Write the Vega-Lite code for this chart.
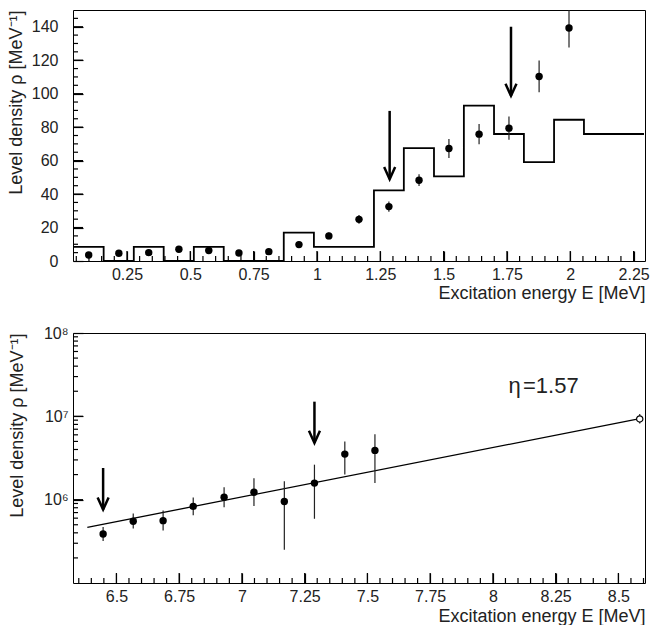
{
  "$schema": "https://vega.github.io/schema/vega-lite/v6.json",
  "padding": {"left": 6, "top": 9, "right": 2, "bottom": 3},
  "background": "white",
  "spacing": 21,
  "config": {
    "view": {"stroke": "black", "strokeWidth": 1},
    "font": "Liberation Sans",
    "axis": {"ticks": true, "labelFont": "Liberation Sans", "labelFontSize": 16, "labelColor": "#222", "titleFont": "Liberation Sans", "titleFontSize": 18, "titleFontWeight": "normal", "titleColor": "#222", "tickColor": "black", "tickWidth": 1.2, "tickOpacity": 1, "domain": false, "grid": false, "zindex": 1}
  },
  "datasets": {
    "hist": [
      {"e": 0.040, "h": 8.44}, {"e": 0.158, "h": 0}, {"e": 0.277, "h": 8.44}, {"e": 0.395, "h": 0},
      {"e": 0.514, "h": 8.44}, {"e": 0.632, "h": 0}, {"e": 0.751, "h": 0}, {"e": 0.869, "h": 16.9},
      {"e": 0.988, "h": 8.44}, {"e": 1.106, "h": 8.44}, {"e": 1.225, "h": 42.2}, {"e": 1.343, "h": 67.5},
      {"e": 1.462, "h": 50.6}, {"e": 1.580, "h": 92.8}, {"e": 1.699, "h": 75.9}, {"e": 1.817, "h": 59.1},
      {"e": 1.936, "h": 84.4}, {"e": 2.054, "h": 75.9}, {"e": 2.173, "h": 75.9}, {"e": 2.291, "h": 75.9}
    ],
    "top": [
      {"x": 0.099, "y": 3.6, "lo": 2.6, "hi": 4.6},
      {"x": 0.218, "y": 4.6, "lo": 3.6, "hi": 5.6},
      {"x": 0.336, "y": 5.0, "lo": 3.8, "hi": 6.2},
      {"x": 0.455, "y": 7.0, "lo": 5.7, "hi": 8.3},
      {"x": 0.573, "y": 6.3, "lo": 5.0, "hi": 7.6},
      {"x": 0.692, "y": 4.8, "lo": 3.6, "hi": 6.0},
      {"x": 0.810, "y": 5.6, "lo": 4.3, "hi": 6.9},
      {"x": 0.929, "y": 9.8, "lo": 8.0, "hi": 11.6},
      {"x": 1.047, "y": 15.0, "lo": 13.0, "hi": 17.0},
      {"x": 1.166, "y": 24.9, "lo": 22.3, "hi": 27.5},
      {"x": 1.284, "y": 32.5, "lo": 29.5, "hi": 35.5},
      {"x": 1.403, "y": 48.3, "lo": 44.8, "hi": 51.8},
      {"x": 1.521, "y": 67.2, "lo": 61.5, "hi": 72.9},
      {"x": 1.640, "y": 75.8, "lo": 69.8, "hi": 81.8},
      {"x": 1.758, "y": 79.4, "lo": 72.4, "hi": 86.4},
      {"x": 1.877, "y": 110.3, "lo": 100.8, "hi": 119.8},
      {"x": 1.995, "y": 139.2, "lo": 127.6, "hi": 150.8}
    ],
    "topArrows": [
      {"x": 1.287, "top": 89.7, "tip": 48.9},
      {"x": 1.766, "top": 140, "tip": 98.7}
    ],
    "bottom": [
      {"x": 6.447, "y": 387000, "lo": 320000, "hi": 470000},
      {"x": 6.567, "y": 550000, "lo": 450000, "hi": 680000},
      {"x": 6.686, "y": 560000, "lo": 427000, "hi": 740000},
      {"x": 6.806, "y": 830000, "lo": 650000, "hi": 1060000},
      {"x": 6.929, "y": 1070000, "lo": 810000, "hi": 1410000},
      {"x": 7.048, "y": 1230000, "lo": 840000, "hi": 1810000},
      {"x": 7.169, "y": 950000, "lo": 250000, "hi": 1660000},
      {"x": 7.289, "y": 1580000, "lo": 590000, "hi": 2630000},
      {"x": 7.41, "y": 3520000, "lo": 2000000, "hi": 5000000},
      {"x": 7.53, "y": 3900000, "lo": 1580000, "hi": 6100000}
    ],
    "open": [
      {"x": 8.585, "y": 9300000, "lo": 8200000, "hi": 10700000}
    ],
    "fit": [
      {"x": 6.384, "y": 465000},
      {"x": 8.57, "y": 9200000}
    ],
    "bottomArrows": [
      {"x": 6.447, "top": 2400000, "tip": 760000},
      {"x": 7.289, "top": 15000000, "tip": 4800000}
    ],
    "label": [
      {"x": 8.062, "y": 23000000, "t": "η"},
      {"x": 8.12, "y": 23000000, "t": "=1.57"}
    ],
    "txMaj": [{"v": 0.25}, {"v": 0.5}, {"v": 0.75}, {"v": 1}, {"v": 1.25}, {"v": 1.5}, {"v": 1.75}, {"v": 2}, {"v": 2.25}],
    "txMin": [{"v": 0.05}, {"v": 0.1}, {"v": 0.15}, {"v": 0.2}, {"v": 0.3}, {"v": 0.35}, {"v": 0.4}, {"v": 0.45}, {"v": 0.55}, {"v": 0.6}, {"v": 0.65}, {"v": 0.7}, {"v": 0.8}, {"v": 0.85}, {"v": 0.9}, {"v": 0.95}, {"v": 1.05}, {"v": 1.1}, {"v": 1.15}, {"v": 1.2}, {"v": 1.3}, {"v": 1.35}, {"v": 1.4}, {"v": 1.45}, {"v": 1.55}, {"v": 1.6}, {"v": 1.65}, {"v": 1.7}, {"v": 1.8}, {"v": 1.85}, {"v": 1.9}, {"v": 1.95}, {"v": 2.05}, {"v": 2.1}, {"v": 2.15}, {"v": 2.2}],
    "tyMaj": [{"v": 20}, {"v": 40}, {"v": 60}, {"v": 80}, {"v": 100}, {"v": 120}, {"v": 140}],
    "tyMin": [{"v": 5}, {"v": 10}, {"v": 15}, {"v": 25}, {"v": 30}, {"v": 35}, {"v": 45}, {"v": 50}, {"v": 55}, {"v": 65}, {"v": 70}, {"v": 75}, {"v": 85}, {"v": 90}, {"v": 95}, {"v": 105}, {"v": 110}, {"v": 115}, {"v": 125}, {"v": 130}, {"v": 135}, {"v": 145}],
    "bxMaj": [{"v": 6.5}, {"v": 6.75}, {"v": 7}, {"v": 7.25}, {"v": 7.5}, {"v": 7.75}, {"v": 8}, {"v": 8.25}, {"v": 8.5}],
    "bxMin": [{"v": 6.35}, {"v": 6.4}, {"v": 6.45}, {"v": 6.55}, {"v": 6.6}, {"v": 6.65}, {"v": 6.7}, {"v": 6.8}, {"v": 6.85}, {"v": 6.9}, {"v": 6.95}, {"v": 7.05}, {"v": 7.1}, {"v": 7.15}, {"v": 7.2}, {"v": 7.3}, {"v": 7.35}, {"v": 7.4}, {"v": 7.45}, {"v": 7.55}, {"v": 7.6}, {"v": 7.65}, {"v": 7.7}, {"v": 7.8}, {"v": 7.85}, {"v": 7.9}, {"v": 7.95}, {"v": 8.05}, {"v": 8.1}, {"v": 8.15}, {"v": 8.2}, {"v": 8.3}, {"v": 8.35}, {"v": 8.4}, {"v": 8.45}, {"v": 8.55}, {"v": 8.6}],
    "byMaj": [{"v": 1000000}, {"v": 10000000}],
    "byMin": [{"v": 200000}, {"v": 300000}, {"v": 400000}, {"v": 500000}, {"v": 600000}, {"v": 700000}, {"v": 800000}, {"v": 900000}, {"v": 2000000}, {"v": 3000000}, {"v": 4000000}, {"v": 5000000}, {"v": 6000000}, {"v": 7000000}, {"v": 8000000}, {"v": 9000000}, {"v": 20000000}, {"v": 30000000}, {"v": 40000000}, {"v": 50000000}, {"v": 60000000}, {"v": 70000000}, {"v": 80000000}, {"v": 90000000}]
  },
  "vconcat": [
    {
      "width": 572,
      "height": 251,
      "resolve": {"axis": {"x": "independent", "y": "independent"}},
      "layer": [
        {
          "data": {"name": "hist"},
          "mark": {"type": "line", "interpolate": "step-after", "color": "black", "strokeWidth": 1.8, "clip": true},
          "encoding": {
            "x": {"field": "e", "type": "quantitative", "scale": {"domain": [0.037, 2.295], "nice": false, "zero": false},
              "axis": {"orient": "bottom", "offset": -10, "ticks": true, "tickColor": "black", "values": [0.25, 0.5, 0.75, 1, 1.25, 1.5, 1.75, 2, 2.25], "labelExpr": "'' + datum.value", "tickSize": 10, "labelPadding": 5, "title": "Excitation energy E [MeV]", "titleAnchor": "end", "titlePadding": 2}},
            "y": {"field": "h", "type": "quantitative", "scale": {"domain": [0, 150], "nice": false},
              "axis": {"orient": "left", "offset": -10, "ticks": true, "tickColor": "black", "values": [0, 20, 40, 60, 80, 100, 120, 140], "tickSize": 10, "labelPadding": 15, "title": "Level density ρ [MeV⁻¹]", "titleAnchor": "end", "titlePadding": 6}}
          }
        },
        {
          "data": {"name": "txMaj"},
          "mark": {"type": "tick", "orient": "vertical", "size": 20, "thickness": 1.2, "color": "black", "opacity": 1, "clip": true},
          "encoding": {
            "x": {"field": "v", "type": "quantitative", "axis": null},
            "y": {"datum": 0, "type": "quantitative", "axis": null}
          }
        },
        {
          "data": {"name": "txMin"},
          "mark": {"type": "tick", "orient": "vertical", "size": 10, "thickness": 1.2, "color": "black", "opacity": 1, "clip": true},
          "encoding": {
            "x": {"field": "v", "type": "quantitative", "axis": null},
            "y": {"datum": 0, "type": "quantitative", "axis": null}
          }
        },
        {
          "data": {"name": "tyMaj"},
          "mark": {"type": "tick", "orient": "horizontal", "size": 20, "thickness": 1.2, "color": "black", "opacity": 1, "clip": true},
          "encoding": {
            "y": {"field": "v", "type": "quantitative", "axis": null},
            "x": {"datum": 0.037, "type": "quantitative", "axis": null}
          }
        },
        {
          "data": {"name": "tyMin"},
          "mark": {"type": "tick", "orient": "horizontal", "size": 10, "thickness": 1.2, "color": "black", "opacity": 1, "clip": true},
          "encoding": {
            "y": {"field": "v", "type": "quantitative", "axis": null},
            "x": {"datum": 0.037, "type": "quantitative", "axis": null}
          }
        },
        {
          "data": {"name": "top"},
          "mark": {"type": "rule", "color": "#222", "strokeWidth": 1.2, "clip": true},
          "encoding": {
            "x": {"field": "x", "type": "quantitative", "axis": null},
            "y": {"field": "lo", "type": "quantitative", "axis": null},
            "y2": {"field": "hi"}
          }
        },
        {
          "data": {"name": "top"},
          "mark": {"type": "point", "shape": "circle", "filled": true, "color": "black", "size": 55, "opacity": 1},
          "encoding": {
            "x": {"field": "x", "type": "quantitative", "axis": null},
            "y": {"field": "y", "type": "quantitative", "axis": null}
          }
        },
        {
          "data": {"name": "topArrows"},
          "mark": {"type": "rule", "color": "black", "strokeWidth": 2.5},
          "encoding": {
            "x": {"field": "x", "type": "quantitative", "axis": null},
            "y": {"field": "top", "type": "quantitative", "axis": null},
            "y2": {"field": "tip"}
          }
        },
        {
          "data": {"name": "topArrows"},
          "mark": {"type": "point", "shape": "M-1,-2.2L0,0L1,-2.2", "filled": false, "stroke": "black", "strokeWidth": 2.5, "size": 121, "opacity": 1},
          "encoding": {
            "x": {"field": "x", "type": "quantitative", "axis": null},
            "y": {"field": "tip", "type": "quantitative", "axis": null}
          }
        }
      ]
    },
    {
      "width": 572,
      "height": 250,
      "resolve": {"axis": {"x": "independent", "y": "independent"}},
      "layer": [
        {
          "data": {"name": "fit"},
          "mark": {"type": "line", "color": "black", "strokeWidth": 1.3},
          "encoding": {
            "x": {"field": "x", "type": "quantitative", "scale": {"domain": [6.327, 8.606], "nice": false, "zero": false},
              "axis": {"orient": "bottom", "offset": -10, "ticks": true, "tickColor": "black", "values": [6.5, 6.75, 7, 7.25, 7.5, 7.75, 8, 8.25, 8.5], "labelExpr": "'' + datum.value", "tickSize": 10, "labelPadding": 5, "title": "Excitation energy E [MeV]", "titleAnchor": "end", "titlePadding": 3}},
            "y": {"field": "y", "type": "quantitative", "scale": {"type": "log", "domain": [100000, 100000000], "nice": false},
              "axis": {"orient": "left", "offset": -10, "ticks": true, "tickColor": "black", "values": [1000000, 10000000, 100000000], "labelExpr": "datum.value >= 1e8 ? '10⁸' : datum.value >= 1e7 ? '10⁷' : '10⁶'", "tickSize": 10, "labelPadding": 5, "title": "Level density ρ [MeV⁻¹]", "titleAnchor": "end", "titlePadding": 17}}
          }
        },
        {
          "data": {"name": "bxMaj"},
          "mark": {"type": "tick", "orient": "vertical", "size": 20, "thickness": 1.2, "color": "black", "opacity": 1, "clip": true},
          "encoding": {
            "x": {"field": "v", "type": "quantitative", "axis": null},
            "y": {"datum": 100000, "type": "quantitative", "axis": null}
          }
        },
        {
          "data": {"name": "bxMin"},
          "mark": {"type": "tick", "orient": "vertical", "size": 10, "thickness": 1.2, "color": "black", "opacity": 1, "clip": true},
          "encoding": {
            "x": {"field": "v", "type": "quantitative", "axis": null},
            "y": {"datum": 100000, "type": "quantitative", "axis": null}
          }
        },
        {
          "data": {"name": "byMaj"},
          "mark": {"type": "tick", "orient": "horizontal", "size": 20, "thickness": 1.2, "color": "black", "opacity": 1, "clip": true},
          "encoding": {
            "y": {"field": "v", "type": "quantitative", "axis": null},
            "x": {"datum": 6.327, "type": "quantitative", "axis": null}
          }
        },
        {
          "data": {"name": "byMin"},
          "mark": {"type": "tick", "orient": "horizontal", "size": 10, "thickness": 1.2, "color": "black", "opacity": 1, "clip": true},
          "encoding": {
            "y": {"field": "v", "type": "quantitative", "axis": null},
            "x": {"datum": 6.327, "type": "quantitative", "axis": null}
          }
        },
        {
          "data": {"name": "bottom"},
          "mark": {"type": "rule", "color": "#222", "strokeWidth": 1.2},
          "encoding": {
            "x": {"field": "x", "type": "quantitative", "axis": null},
            "y": {"field": "lo", "type": "quantitative", "axis": null},
            "y2": {"field": "hi"}
          }
        },
        {
          "data": {"name": "bottom"},
          "mark": {"type": "point", "shape": "circle", "filled": true, "color": "black", "size": 55, "opacity": 1},
          "encoding": {
            "x": {"field": "x", "type": "quantitative", "axis": null},
            "y": {"field": "y", "type": "quantitative", "axis": null}
          }
        },
        {
          "data": {"name": "open"},
          "mark": {"type": "rule", "color": "#222", "strokeWidth": 1.2},
          "encoding": {
            "x": {"field": "x", "type": "quantitative", "axis": null},
            "y": {"field": "lo", "type": "quantitative", "axis": null},
            "y2": {"field": "hi"}
          }
        },
        {
          "data": {"name": "open"},
          "mark": {"type": "point", "shape": "circle", "filled": true, "fill": "white", "stroke": "black", "strokeWidth": 1.2, "size": 40, "opacity": 1},
          "encoding": {
            "x": {"field": "x", "type": "quantitative", "axis": null},
            "y": {"field": "y", "type": "quantitative", "axis": null}
          }
        },
        {
          "data": {"name": "bottomArrows"},
          "mark": {"type": "rule", "color": "black", "strokeWidth": 2.5},
          "encoding": {
            "x": {"field": "x", "type": "quantitative", "axis": null},
            "y": {"field": "top", "type": "quantitative", "axis": null},
            "y2": {"field": "tip"}
          }
        },
        {
          "data": {"name": "bottomArrows"},
          "mark": {"type": "point", "shape": "M-1,-2.2L0,0L1,-2.2", "filled": false, "stroke": "black", "strokeWidth": 2.5, "size": 121, "opacity": 1},
          "encoding": {
            "x": {"field": "x", "type": "quantitative", "axis": null},
            "y": {"field": "tip", "type": "quantitative", "axis": null}
          }
        },
        {
          "data": {"name": "label"},
          "mark": {"type": "text", "align": "left", "baseline": "middle", "fontSize": 22, "color": "#222", "font": "Liberation Sans"},
          "encoding": {
            "x": {"field": "x", "type": "quantitative", "axis": null},
            "y": {"field": "y", "type": "quantitative", "axis": null},
            "text": {"field": "t"},
            "fontStyle": {"condition": {"test": "datum.t == 'η'", "value": "italic"}, "value": "normal"}
          }
        }
      ]
    }
  ]
}
